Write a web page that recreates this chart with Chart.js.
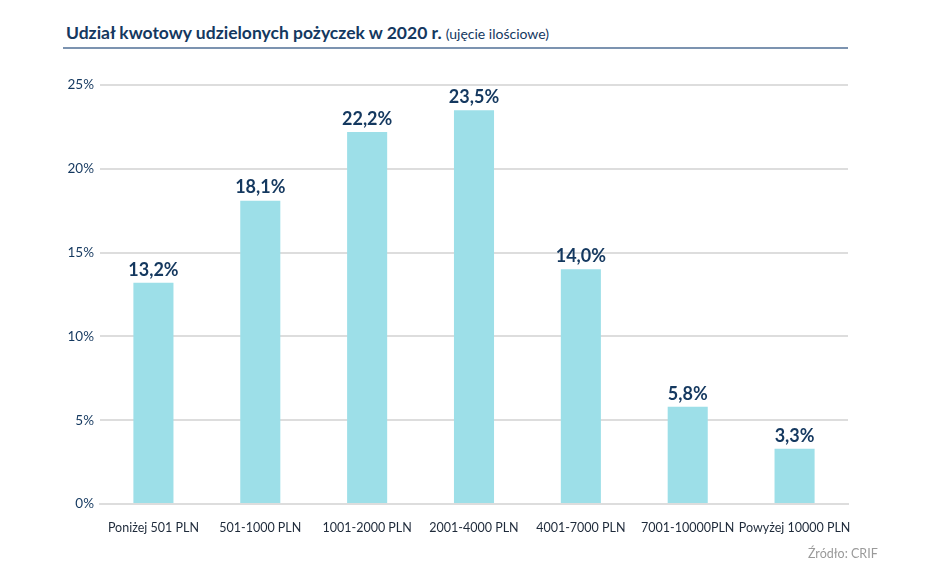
<!DOCTYPE html>
<html><head><meta charset="utf-8">
<script src="https://cdn.jsdelivr.net/npm/chart.js@4"></script>
<style>
html,body{margin:0;padding:0;background:#fff;}
#wrap{position:relative;width:948px;height:565px;}
#title{position:absolute;left:66px;top:22px;font-family:Lato,sans-serif;color:#14385f;font-size:17.5px;font-weight:bold;white-space:nowrap;}
#title span{font-weight:normal;font-size:14px;}
#rule{position:absolute;left:63px;top:47px;width:785px;height:2px;background:#7c93b0;}
#src{position:absolute;left:808px;top:546px;font-family:Lato,sans-serif;font-size:12.5px;color:#9a9a9a;}
canvas{position:absolute;left:0;top:0;}
</style></head><body>
<div id="wrap">
<div id="title">Udział kwotowy udzielonych pożyczek w 2020 r. <span>(ujęcie ilościowe)</span></div>
<div id="rule"></div>
<canvas id="c" width="948" height="565"></canvas>
<div id="src">Źródło: CRIF</div>
</div>
<script>
const categories = ["Poniżej 501 PLN","501-1000 PLN","1001-2000 PLN","2001-4000 PLN","4001-7000 PLN","7001-10000PLN","Powyżej 10000 PLN"];
const values = [13.2,18.1,22.2,23.5,14.0,5.8,3.3];
const yTicks = [0,5,10,15,20,25];

const labelPlugin = {
  id:'vlabels',
  afterDatasetsDraw(chart){
    const ctx = chart.ctx;
    const meta = chart.getDatasetMeta(0);
    ctx.save();
    ctx.font = 'bold 18px Lato, sans-serif';
    ctx.fillStyle = '#14385f';
    ctx.textAlign = 'center';
    ctx.textBaseline = 'bottom';
    meta.data.forEach((bar,i)=>{
      ctx.fillText(values[i].toFixed(1).replace('.',',')+'%', bar.x, bar.y-4);
    });
    ctx.restore();
  }
};

new Chart(document.getElementById('c'),{
  type:'bar',
  data:{labels:categories,datasets:[{data:values,backgroundColor:'#9ddfe8',barPercentage:0.375,categoryPercentage:1}]},
  options:{
    responsive:false,animation:false,
    layout:{padding:{top:85,right:100,bottom:31,left:0}},
    plugins:{legend:{display:false},tooltip:{enabled:false}},
    scales:{
      x:{
        grid:{display:false,drawTicks:false},
        border:{display:true,color:'#dddddd',width:2},
        ticks:{color:'#1e2a3a',font:{family:'Lato',size:12.5},padding:16,maxRotation:0,minRotation:0,autoSkip:false},
        afterFit(s){s.height=30;}
      },
      y:{
        min:0,max:25,
        afterBuildTicks(s){s.ticks=yTicks.map(v=>({value:v}));},
        grid:{color:'#dddddd',lineWidth:2,drawTicks:false},
        border:{display:false},
        ticks:{color:'#14385f',font:{family:'Lato',size:13.5},padding:6,callback:v=>v+'%'},
        afterFit(s){s.width=100;}
      }
    }
  },
  plugins:[labelPlugin]
});
</script>
</body></html>
